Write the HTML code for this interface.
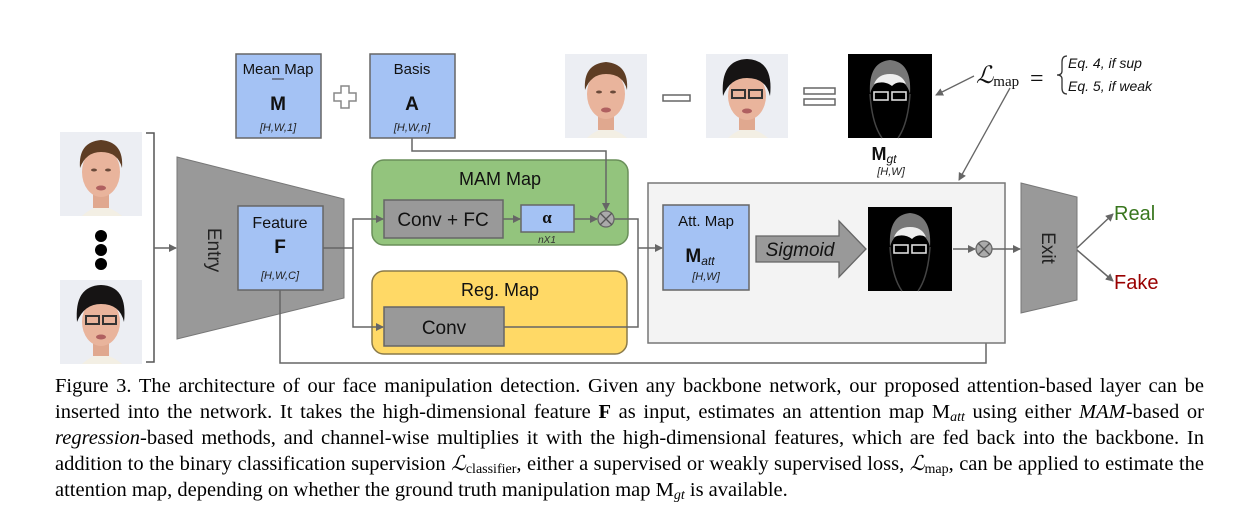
<!DOCTYPE html>
<html><head><meta charset="utf-8"><style>
body{margin:0;background:#fff;width:1254px;height:522px;overflow:hidden;position:relative}
svg{position:absolute;left:0;top:0}
.cap{position:absolute;left:55px;top:373px;width:1149px;font-family:"Liberation Serif",serif;font-size:20.5px;line-height:26px;color:#000}
.cap div{text-align:justify;text-align-last:justify;white-space:nowrap;height:26px}
.cap div.l{text-align-last:left}
.b{font-weight:bold}
sub{font-size:14px;vertical-align:-3px;line-height:0}
</style></head><body>
<svg width="1254" height="522" viewBox="0 0 1254 522" font-family="Liberation Sans, sans-serif">
<defs>
<marker id="ar" markerWidth="8" markerHeight="8" refX="7" refY="4" orient="auto" markerUnits="userSpaceOnUse"><path d="M0,0 L8,4 L0,8 Z" fill="#666"/></marker>
<g id="face1">
<rect width="82" height="84" fill="#eceef3"/>
<path d="M22,84 Q41,66 62,84 Z" fill="#f3efe4"/>
<rect x="33" y="58" width="16" height="18" fill="#e0a88f"/>
<ellipse cx="41" cy="40" rx="19" ry="25" fill="#e9b49c"/>
<path d="M20,36 Q18,10 41,8 Q64,10 62,36 Q58,20 41,20 Q26,20 20,36Z" fill="#5e3d24"/>
<ellipse cx="34" cy="38" rx="3" ry="1.5" fill="#6a4a3a"/><ellipse cx="48" cy="38" rx="3" ry="1.5" fill="#6a4a3a"/>
<ellipse cx="41" cy="56" rx="5" ry="2.5" fill="#b06060"/>
</g>
<g id="face2">
<rect width="82" height="84" fill="#eceef3"/>
<path d="M22,84 Q41,66 62,84 Z" fill="#f3efe4"/>
<rect x="33" y="58" width="16" height="18" fill="#e0a88f"/>
<ellipse cx="41" cy="42" rx="19" ry="24" fill="#e9b49c"/>
<path d="M17,42 Q14,6 41,5 Q68,6 64,42 Q60,24 41,24 Q24,24 17,42Z" fill="#161414"/>
<rect x="26" y="36" width="13" height="8" fill="none" stroke="#333" stroke-width="2"/><rect x="43" y="36" width="13" height="8" fill="none" stroke="#333" stroke-width="2"/>
<ellipse cx="41" cy="57" rx="5" ry="2.5" fill="#b06060"/>
</g>
<g id="mask">
<rect width="84" height="84" fill="#000"/>
<path d="M22,40 Q20,8 42,6 Q64,8 62,40 Q58,24 42,26 Q26,24 22,40Z" fill="#777"/>
<path d="M26,30 Q30,20 42,20 Q54,20 58,30 Q50,26 44,32 Q36,26 26,30Z" fill="#eee"/>
<rect x="26" y="38" width="14" height="8" fill="none" stroke="#ddd" stroke-width="1.6"/><rect x="44" y="38" width="14" height="8" fill="none" stroke="#ddd" stroke-width="1.6"/>
<path d="M22,40 Q24,70 34,84 M62,40 Q60,70 50,84" stroke="#444" fill="none" stroke-width="1.5"/>
</g>
</defs>

<use href="#face1" x="60" y="132"/>
<use href="#face2" x="60" y="280"/>
<circle cx="101" cy="236" r="6" fill="#000"/><circle cx="101" cy="250" r="6" fill="#000"/><circle cx="101" cy="264" r="6" fill="#000"/>
<path d="M146,133 H154 V362 H146" fill="none" stroke="#555" stroke-width="1.5"/>
<line x1="154" y1="248" x2="176" y2="248" stroke="#666" stroke-width="1.5" marker-end="url(#ar)"/>

<polygon points="177,157 344,199 344,298 177,339" fill="#999" stroke="#777"/>
<text transform="translate(208,250) rotate(90)" text-anchor="middle" font-size="19" fill="#222">Entry</text>
<rect x="238" y="206" width="85" height="84" fill="#a4c2f4" stroke="#666" stroke-width="1.5"/>
<text x="280" y="228" text-anchor="middle" font-size="16" fill="#111">Feature</text>
<text x="280" y="253" text-anchor="middle" font-size="19" font-weight="bold" fill="#111">F</text>
<text x="280" y="279" text-anchor="middle" font-size="11" font-style="italic" fill="#222">[H,W,C]</text>

<rect x="236" y="54" width="85" height="84" fill="#a4c2f4" stroke="#666" stroke-width="1.5"/>
<text x="278" y="74" text-anchor="middle" font-size="15" fill="#111">Mean Map</text>
<line x1="272" y1="79" x2="284" y2="79" stroke="#333"/>
<text x="278" y="110" text-anchor="middle" font-size="19" font-weight="bold" fill="#111">M</text>
<text x="278" y="131" text-anchor="middle" font-size="11" font-style="italic" fill="#222">[H,W,1]</text>
<path d="M341,86 h8 v7 h7 v8 h-7 v7 h-8 v-7 h-7 v-8 h7 Z" fill="#fff" stroke="#888" stroke-width="1.5"/>
<rect x="370" y="54" width="85" height="84" fill="#a4c2f4" stroke="#666" stroke-width="1.5"/>
<text x="412" y="74" text-anchor="middle" font-size="15" fill="#111">Basis</text>
<text x="412" y="110" text-anchor="middle" font-size="19" font-weight="bold" fill="#111">A</text>
<text x="412" y="131" text-anchor="middle" font-size="11" font-style="italic" fill="#222">[H,W,n]</text>

<rect x="372" y="160" width="256" height="85" rx="12" fill="#93c47d" stroke="#6a8f5a" stroke-width="1.5"/>
<text x="500" y="185" text-anchor="middle" font-size="18" fill="#111">MAM Map</text>
<rect x="384" y="200" width="119" height="38" fill="#999" stroke="#666" stroke-width="1.5"/>
<text x="443" y="226" text-anchor="middle" font-size="19" fill="#111">Conv + FC</text>
<rect x="521" y="205" width="53" height="27" fill="#a4c2f4" stroke="#666" stroke-width="1.5"/>
<text x="547" y="223" text-anchor="middle" font-size="17" font-weight="bold" fill="#111" font-family="Liberation Serif, serif">α</text>
<text x="547" y="243" text-anchor="middle" font-size="10" font-style="italic" fill="#333">nX1</text>
<line x1="503" y1="219" x2="520" y2="219" stroke="#666" stroke-width="1.5" marker-end="url(#ar)"/>
<line x1="574" y1="219" x2="597" y2="219" stroke="#666" stroke-width="1.5" marker-end="url(#ar)"/>
<circle cx="606" cy="219" r="8" fill="#aaa" stroke="#666" stroke-width="1.3"/>
<path d="M600,213 L612,225 M612,213 L600,225" stroke="#555" stroke-width="1.3"/>
<polyline points="412,138 412,151 606,151 606,210" fill="none" stroke="#666" stroke-width="1.5" marker-end="url(#ar)"/>

<rect x="372" y="271" width="255" height="83" rx="12" fill="#ffd966" stroke="#8a7a4a" stroke-width="1.5"/>
<text x="500" y="296" text-anchor="middle" font-size="18" fill="#111">Reg. Map</text>
<rect x="384" y="307" width="120" height="39" fill="#999" stroke="#666" stroke-width="1.5"/>
<text x="444" y="334" text-anchor="middle" font-size="19" fill="#111">Conv</text>

<polyline points="323,248 353,248" fill="none" stroke="#666" stroke-width="1.5"/>
<polyline points="383,219 353,219 353,327 383,327" fill="none" stroke="#666" stroke-width="1.5"/>
<path d="M376,215 L384,219 L376,223Z M376,323 L384,327 L376,331Z" fill="#666"/>
<polyline points="614,219 638,219 638,327 504,327" fill="none" stroke="#666" stroke-width="1.5"/>
<polyline points="280,290 280,363 986,363 986,258" fill="none" stroke="#666" stroke-width="1.5" marker-end="url(#ar)"/>

<rect x="648" y="183" width="357" height="160" fill="#f3f3f3" stroke="#777" stroke-width="1.5"/>
<line x1="638" y1="248" x2="662" y2="248" stroke="#666" stroke-width="1.5" marker-end="url(#ar)"/>
<rect x="663" y="205" width="86" height="85" fill="#a4c2f4" stroke="#666" stroke-width="1.5"/>
<text x="706" y="226" text-anchor="middle" font-size="15" fill="#111">Att. Map</text>
<text x="700" y="262" text-anchor="middle" font-size="19" font-weight="bold" fill="#111">M<tspan font-size="12" font-weight="normal" font-style="italic" dy="3">att</tspan></text>
<text x="706" y="280" text-anchor="middle" font-size="11" font-style="italic" fill="#222">[H,W]</text>
<polygon points="756,236 839,236 839,221 866,249 839,277 839,262 756,262" fill="#999" stroke="#666" stroke-width="1.3"/>
<text x="800" y="256" text-anchor="middle" font-size="19" font-style="italic" fill="#111">Sigmoid</text>
<use href="#mask" x="868" y="207"/>
<line x1="953" y1="249" x2="975" y2="249" stroke="#666" stroke-width="1.5" marker-end="url(#ar)"/>
<circle cx="984" cy="249" r="8" fill="#aaa" stroke="#666" stroke-width="1.3"/>
<path d="M978,243 L990,255 M990,243 L978,255" stroke="#555" stroke-width="1.3"/>
<line x1="992" y1="249" x2="1020" y2="249" stroke="#666" stroke-width="1.5" marker-end="url(#ar)"/>

<polygon points="1021,183 1077,197 1077,300 1021,313" fill="#999" stroke="#777"/>
<text transform="translate(1042,248) rotate(90)" text-anchor="middle" font-size="19" fill="#222">Exit</text>
<line x1="1077" y1="248" x2="1113" y2="214" stroke="#666" stroke-width="1.5" marker-end="url(#ar)"/>
<line x1="1077" y1="250" x2="1113" y2="281" stroke="#666" stroke-width="1.5" marker-end="url(#ar)"/>
<text x="1114" y="220" font-size="20" fill="#38761d">Real</text>
<text x="1114" y="289" font-size="20" fill="#990000">Fake</text>

<use href="#face1" x="565" y="54"/>
<rect x="663" y="95" width="27" height="6" fill="#fff" stroke="#666" stroke-width="1.5"/>
<use href="#face2" x="706" y="54"/>
<rect x="804" y="88" width="31" height="6" fill="#fff" stroke="#666" stroke-width="1.5"/>
<rect x="804" y="99" width="31" height="6" fill="#fff" stroke="#666" stroke-width="1.5"/>
<use href="#mask" x="848" y="54"/>
<text x="884" y="160" text-anchor="middle" font-size="18" font-weight="bold" fill="#111">M<tspan font-size="12" font-weight="normal" font-style="italic" dy="3">gt</tspan></text>
<text x="891" y="175" text-anchor="middle" font-size="11" font-style="italic" fill="#222">[H,W]</text>
<text x="976" y="83" font-size="24" font-style="italic" font-family="Liberation Serif, serif" fill="#111">ℒ<tspan font-size="15" font-style="normal" dy="3">map</tspan></text>
<text x="1030" y="86" font-size="24" font-family="Liberation Serif, serif" fill="#111">=</text>
<path d="M1067,56 Q1062,56 1062,62 V71 Q1062,75 1057,75 Q1062,75 1062,79 V88 Q1062,94 1067,94" fill="none" stroke="#333" stroke-width="1.3"/>
<text x="1068" y="68" font-size="14" font-style="italic" fill="#111">Eq. 4, if sup</text>
<text x="1068" y="91" font-size="14" font-style="italic" fill="#111">Eq. 5, if weak</text>
<line x1="974" y1="76" x2="936" y2="95" stroke="#666" stroke-width="1.3" marker-end="url(#ar)"/>
<line x1="1010" y1="88" x2="959" y2="180" stroke="#666" stroke-width="1.3" marker-end="url(#ar)"/>
</svg>
<div class="cap">
<div>Figure 3. The architecture of our face manipulation detection. Given any backbone network, our proposed attention-based layer can be</div>
<div>inserted into the network. It takes the high-dimensional feature <span class="b">F</span> as input, estimates an attention map M<sub><i>att</i></sub> using either <i>MAM</i>-based or</div>
<div><i>regression</i>-based methods, and channel-wise multiplies it with the high-dimensional features, which are fed back into the backbone. In</div>
<div>addition to the binary classification supervision <i>ℒ</i><sub>classifier</sub>, either a supervised or weakly supervised loss, <i>ℒ</i><sub>map</sub>, can be applied to estimate the</div>
<div class="l">attention map, depending on whether the ground truth manipulation map M<sub><i>gt</i></sub> is available.</div>
</div>
</body></html>
